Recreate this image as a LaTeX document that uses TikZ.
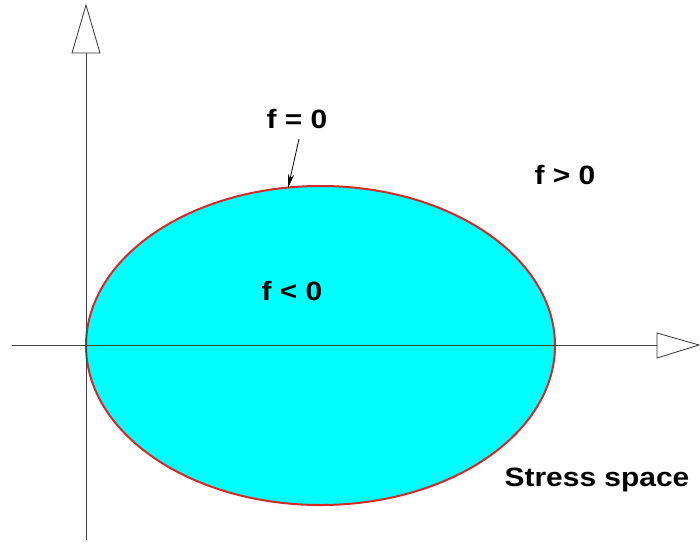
\documentclass[tikz,border=0pt]{standalone}
\usepackage{fontspec}
\setmainfont{Liberation Sans}
\usetikzlibrary{arrows.meta,shapes.geometric}
\begin{document}
\begin{tikzpicture}[x=1pt,y=-1pt,
  axis/.style={draw=black!75, line width=0.8pt},
  opentip/.style={draw=black!80, line width=0.8pt, fill=white, line join=miter},
  lbl/.style={font=\fontsize{26.5}{30}\selectfont\bfseries, xscale=1.13, anchor=base, inner sep=0pt},
]
\useasboundingbox (0,0) rectangle (700,543);
\definecolor{aqua}{RGB}{0,255,255}
\definecolor{rim}{RGB}{215,40,40}
% yield surface
\node[ellipse, draw=rim, line width=2pt, fill=aqua, minimum width=469pt, minimum height=319pt, inner sep=0pt] (yield) at (320.5,345.5) {};
% axes
\coordinate (xs) at (12,345);
\coordinate (xb) at (657,345);
\coordinate (ys) at (86,540);
\coordinate (yb) at (86,53);
\draw[axis] (xs) -- (xb);
\draw[axis] (ys) -- (yb);
\draw[opentip] (657,333) -- (699,345) -- (657,358) -- cycle;
\draw[opentip] (72,53) -- (86,5) -- (100,53) -- cycle;
% labels
\node[lbl] (f0) at (297,128) {f = 0};
\node[lbl] (fgt) at (565,184) {f > 0};
\node[lbl] (flt) at (292,300) {f < 0};
\node[lbl] (ss) at (597,486) {Stress space};
\coordinate (touch) at (288,188);
\coordinate (astart) at (299,139);
\draw[black, line width=0.8pt, -{Stealth[length=14pt,width=6pt]}] (astart) -- (touch);
\end{tikzpicture}
\end{document}
